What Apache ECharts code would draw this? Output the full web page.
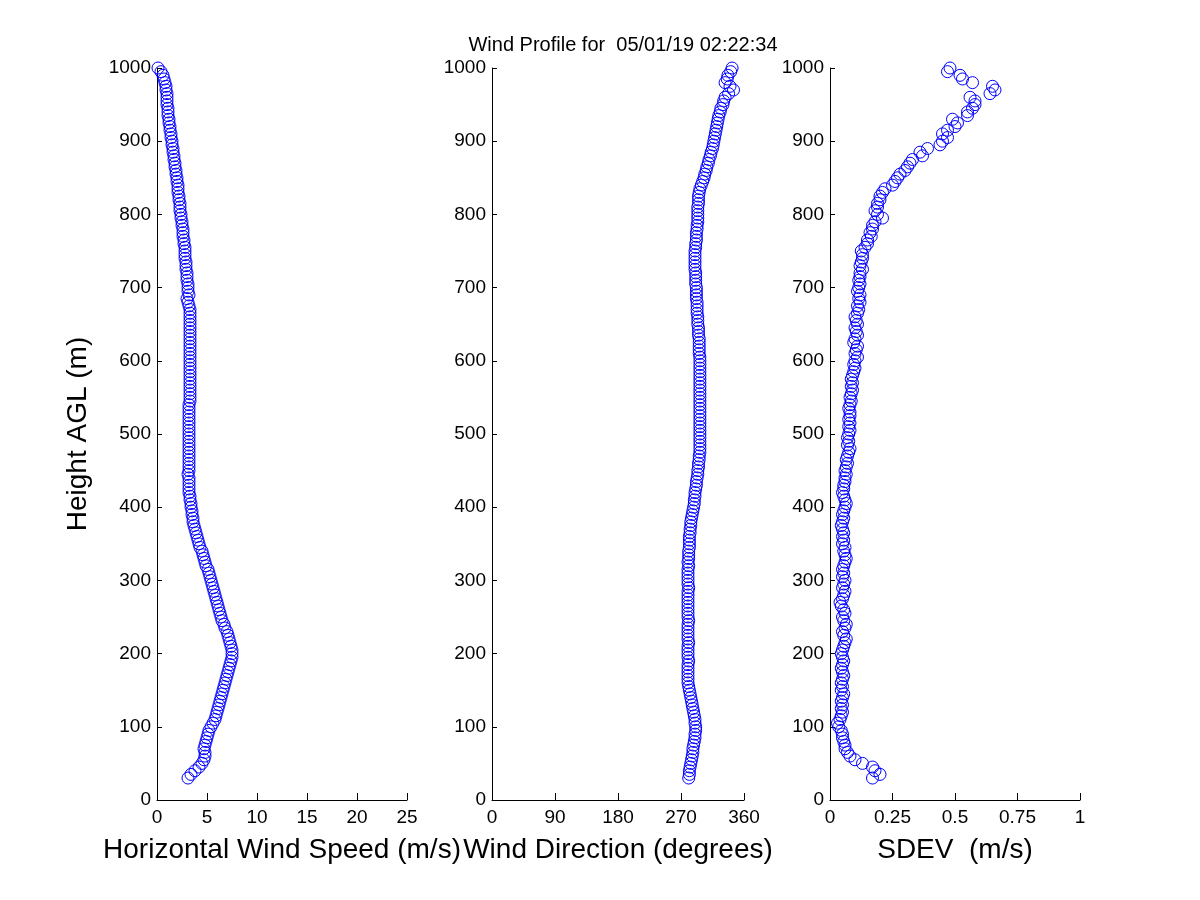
<!DOCTYPE html>
<html>
<head>
<meta charset="utf-8">
<script src="https://cdn.jsdelivr.net/npm/echarts@6/dist/echarts.min.js"></script>
<style>html,body{margin:0;padding:0;background:#fff}#c{width:1200px;height:900px}</style>
</head>
<body>
<div id="c"></div>
<script>
var heights = [
30,35,40,45,50,55,60,65,70,75,
80,85,90,95,100,105,110,115,120,125,
130,135,140,145,150,155,160,165,170,175,
180,185,190,195,200,205,210,215,220,225,
230,235,240,245,250,255,260,265,270,275,
280,285,290,295,300,305,310,315,320,325,
330,335,340,345,350,355,360,365,370,375,
380,385,390,395,400,405,410,415,420,425,
430,435,440,445,450,455,460,465,470,475,
480,485,490,495,500,505,510,515,520,525,
530,535,540,545,550,555,560,565,570,575,
580,585,590,595,600,605,610,615,620,625,
630,635,640,645,650,655,660,665,670,675,
680,685,690,695,700,705,710,715,720,725,
730,735,740,745,750,755,760,765,770,775,
780,785,790,795,800,805,810,815,820,825,
830,835,840,845,850,855,860,865,870,875,
880,885,890,895,900,905,910,915,920,925,
930,935,940,945,950,955,960,965,970,975,
980,985,990,995,1000
];
var windSpeed = [
3.1,3.4,3.8,4.2,4.5,4.7,4.8,4.8,4.7,4.8,
4.9,5.0,5.1,5.2,5.4,5.6,5.8,5.9,6.0,6.1,
6.2,6.3,6.4,6.5,6.6,6.7,6.8,6.9,7.0,7.1,
7.2,7.3,7.4,7.5,7.5,7.5,7.4,7.3,7.2,7.1,
7.0,6.8,6.7,6.5,6.4,6.3,6.2,6.1,6.0,5.9,
5.8,5.7,5.6,5.5,5.4,5.3,5.2,5.1,4.9,4.8,
4.7,4.6,4.5,4.3,4.2,4.1,4.0,3.9,3.8,3.7,
3.6,3.6,3.5,3.5,3.4,3.4,3.3,3.3,3.2,3.2,
3.2,3.2,3.2,3.1,3.2,3.2,3.2,3.2,3.2,3.2,
3.2,3.2,3.2,3.2,3.2,3.2,3.2,3.2,3.2,3.2,
3.2,3.2,3.2,3.3,3.3,3.3,3.3,3.3,3.3,3.3,
3.3,3.3,3.3,3.3,3.3,3.3,3.3,3.3,3.3,3.3,
3.3,3.3,3.3,3.3,3.3,3.3,3.3,3.3,3.3,3.2,
3.1,3.0,3.2,3.1,3.1,3.1,3.0,3.0,3.0,2.9,
2.9,2.9,2.8,2.8,2.8,2.8,2.7,2.7,2.6,2.6,
2.6,2.5,2.5,2.4,2.4,2.3,2.3,2.3,2.2,2.2,
2.1,2.1,2.1,2.0,2.0,1.9,1.9,1.8,1.8,1.7,
1.7,1.6,1.6,1.5,1.5,1.4,1.4,1.3,1.3,1.2,
1.2,1.1,1.1,1.1,1.0,1.0,1.0,1.0,0.9,0.9,
0.8,0.7,0.6,0.4,0.1
];
var windDir = [
281,282,282,283,284,285,286,287,287,288,
289,290,290,291,291,290,290,289,288,287,
286,285,284,283,282,281,280,280,280,280,
280,280,281,280,280,280,280,281,280,280,
280,280,280,281,280,280,280,280,280,280,
280,280,281,280,280,280,280,280,281,280,
281,281,281,282,282,282,282,283,283,284,
284,285,286,287,288,289,289,290,290,291,
292,292,293,294,294,295,295,296,296,297,
297,297,297,297,297,297,297,297,297,297,
297,297,297,297,297,297,297,297,297,297,
297,297,297,297,297,297,296,296,296,296,
296,295,295,295,294,294,294,293,293,293,
293,292,292,292,292,291,291,291,291,290,
290,290,290,290,290,291,291,292,292,292,
293,293,294,294,294,294,294,295,295,295,
296,297,299,301,303,304,306,307,309,310,
312,313,315,316,317,318,319,320,321,322,
323,324,326,327,330,331,333,338,345,340,
333,336,337,341,343
];
var sdev = [
0.17,0.20,0.18,0.17,0.13,0.10,0.08,0.07,0.06,0.06,
0.055,0.05,0.05,0.045,0.035,0.03,0.04,0.045,0.05,0.045,
0.05,0.045,0.05,0.055,0.045,0.05,0.045,0.05,0.055,0.05,
0.045,0.05,0.055,0.05,0.045,0.05,0.055,0.06,0.065,0.055,
0.05,0.06,0.065,0.055,0.05,0.06,0.055,0.045,0.04,0.05,
0.055,0.06,0.05,0.055,0.06,0.05,0.055,0.05,0.055,0.06,
0.065,0.06,0.055,0.06,0.05,0.055,0.05,0.055,0.05,0.045,
0.05,0.055,0.05,0.055,0.06,0.065,0.06,0.055,0.05,0.055,
0.055,0.06,0.06,0.065,0.06,0.065,0.07,0.065,0.07,0.075,
0.08,0.07,0.075,0.07,0.075,0.08,0.075,0.08,0.075,0.08,
0.08,0.075,0.08,0.085,0.08,0.085,0.09,0.085,0.09,0.085,
0.09,0.095,0.10,0.095,0.10,0.11,0.10,0.105,0.11,0.095,
0.10,0.11,0.105,0.10,0.11,0.105,0.10,0.11,0.115,0.11,
0.12,0.115,0.12,0.11,0.115,0.12,0.115,0.12,0.12,0.13,
0.12,0.125,0.13,0.13,0.125,0.14,0.15,0.15,0.165,0.16,
0.17,0.17,0.18,0.21,0.19,0.18,0.19,0.19,0.20,0.20,
0.21,0.22,0.25,0.26,0.27,0.28,0.30,0.31,0.32,0.33,
0.37,0.36,0.39,0.44,0.45,0.47,0.45,0.47,0.50,0.51,
0.49,0.55,0.55,0.57,0.58,0.58,0.56,0.64,0.66,0.65,
0.57,0.53,0.52,0.47,0.48
];
var yTicks = {min: 0, max: 1000, interval: 100};
var speedTicks = {min: 0, max: 25, interval: 5};
var dirTicks = {min: 0, max: 360, interval: 90};
var sdevTicks = {min: 0, max: 1, interval: 0.25};
var titleText = 'Wind Profile for  05/01/19 02:22:34';
var xNames = ['Horizontal Wind Speed (m/s)', 'Wind Direction (degrees)', 'SDEV  (m/s)'];
var yName = 'Height AGL (m)';

var FONT = 'Liberation Sans, Arial, sans-serif';
function pairs(xs) { return xs.map(function (v, i) { return [v, heights[i]]; }); }
function xAxis(idx, t, name) {
  return {
    type: 'value', gridIndex: idx, min: t.min, max: t.max, interval: t.interval,
    name: name, nameLocation: 'middle', nameGap: 36,
    nameTextStyle: {fontSize: 28, color: '#000', fontFamily: FONT},
    axisLine: {show: true, lineStyle: {color: '#000', width: 1}},
    axisTick: {show: true, inside: true, length: 7, lineStyle: {color: '#000'}},
    axisLabel: {color: '#000', fontSize: 19, fontFamily: FONT, margin: 8,
      formatter: function (v) { return String(v); }},
    splitLine: {show: false}
  };
}
function yAxis(idx, name) {
  return {
    type: 'value', gridIndex: idx, min: yTicks.min, max: yTicks.max, interval: yTicks.interval,
    name: name || '', nameLocation: 'middle', nameGap: 65,
    nameTextStyle: {fontSize: 28, color: '#000', fontFamily: FONT},
    axisLine: {show: true, lineStyle: {color: '#000', width: 1}},
    axisTick: {show: true, inside: true, length: 5, lineStyle: {color: '#000'}},
    axisLabel: {color: '#000', fontSize: 19, fontFamily: FONT, margin: 6,
      formatter: function (v) { return String(v); }},
    splitLine: {show: false}
  };
}
function series(idx, xs) {
  return {
    type: 'scatter', xAxisIndex: idx, yAxisIndex: idx, data: pairs(xs),
    symbol: 'circle', symbolSize: 12,
    itemStyle: {color: 'rgba(0,0,0,0)', borderColor: '#0000ff', borderWidth: 1, opacity: 1},
    emphasis: {disabled: true}, silent: true, animation: false
  };
}
var chart = echarts.init(document.getElementById('c'), null, {renderer: 'canvas'});
chart.setOption({
  backgroundColor: '#fff',
  animation: false,
  title: {text: titleText, left: 618, top: 30, textAlign: 'center',
    textStyle: {fontSize: 20, fontWeight: 'normal', color: '#000', fontFamily: FONT}},
  grid: [
    {left: 157, top: 68, width: 250, height: 732},
    {left: 492, top: 68, width: 252, height: 732},
    {left: 830, top: 68, width: 250, height: 732}
  ],
  xAxis: [xAxis(0, speedTicks, xNames[0]), xAxis(1, dirTicks, xNames[1]), xAxis(2, sdevTicks, xNames[2])],
  yAxis: [yAxis(0, yName), yAxis(1), yAxis(2)],
  series: [series(0, windSpeed), series(1, windDir), series(2, sdev)]
});
</script>
</body>
</html>
